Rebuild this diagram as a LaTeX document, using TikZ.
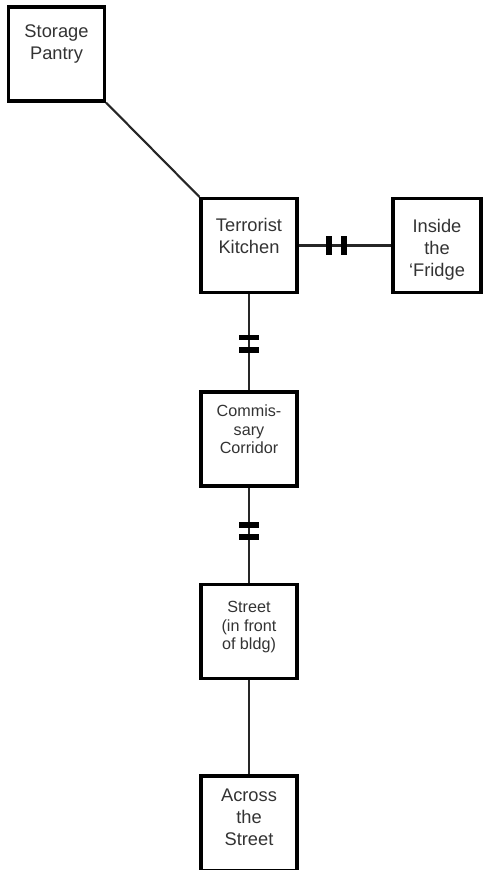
\documentclass[tikz,border=0pt]{standalone}
\usepackage{fontspec}
\setmainfont{Liberation Sans}
\usepackage{tikz}
\usetikzlibrary{positioning}

\tikzset{
  room/.style={draw, line width=2.2pt, inner sep=0pt, align=center,
    minimum width=68.3pt, minimum height=66.9pt,
    text height=#1, text depth={66.9pt-#1}, text=black!80,
    font=\fontsize{13pt}{15.5pt}\selectfont},
  smallroom/.style={room=#1, font=\fontsize{11.5pt}{13.2pt}\selectfont},
  passage/.style={line width=1.5pt, black!85},
  door/.style={fill=black, inner sep=0pt, sloped,
    minimum width=4pt, minimum height=14pt}
}

\begin{document}
\begin{tikzpicture}[x=0.025cm, y=-0.025cm]
        \useasboundingbox (0,0) rectangle (483,870);
        % Rooms
        \node[room=37.5pt] (pantry) at (56.5,54) {Storage\\Pantry};
        \node[room=39pt] (kitchen) at (249,245.5) {Terrorist\\Kitchen};
        \node[room=55.2pt, minimum width=62.6pt] (fridge) at (437,245.5) {Inside\\the\\`Fridge};
        \node[smallroom=43.8pt] (corridor) at (249,439) {Commis-\\sary\\Corridor};
        \node[smallroom=46.3pt] (street) at (249,631.5) {Street\\(in front\\of bldg)};
        \node[room=49.2pt] (across) at (249,823) {Across\\the\\Street};
        % Passages
        \draw[passage] (pantry.south east) -- (kitchen.north west);
        \draw[passage] (kitchen.east) -- node[door, pos=0.33] {} node[door, pos=0.49] {} (fridge.west);
        \draw[passage] (kitchen.south) -- node[door, pos=0.45] {} node[door, pos=0.58] {} (corridor.north);
        \draw[passage] (corridor.south) -- node[door, pos=0.39] {} node[door, pos=0.52] {} (street.north);
        \draw[passage] (street.south) -- (across.north);
\end{tikzpicture}
\end{document}
